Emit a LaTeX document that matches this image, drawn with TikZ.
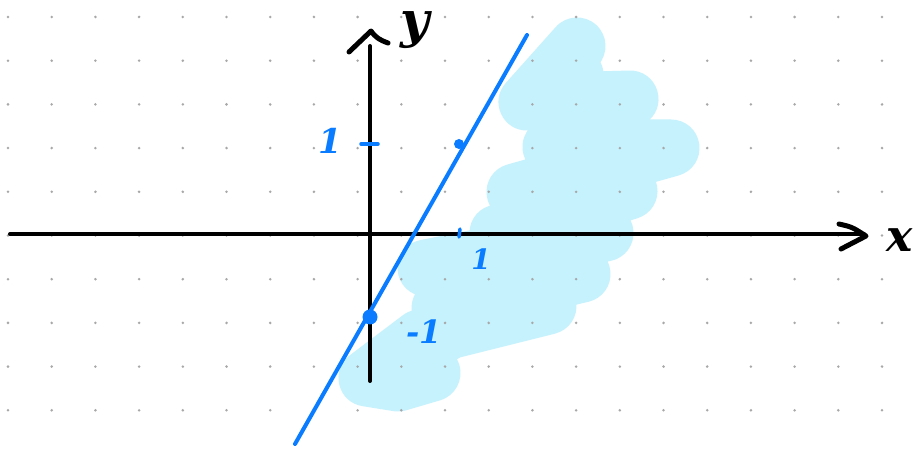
\documentclass[tikz,border=0pt]{standalone}
\usepackage{fontspec}
\setmainfont{DejaVu Serif}
\definecolor{blobc}{HTML}{C5F2FD}
\definecolor{linec}{HTML}{0A7CFF}
\definecolor{dotc}{HTML}{A8A8A8}
\begin{document}
\begin{tikzpicture}[x=1pt,y=-1pt,
  axis/.style={line width=4pt,line cap=round,line join=round,black},
  blue lbl/.style={text=linec,font=\bfseries\itshape\fontsize{#1}{#1}\selectfont,inner sep=0pt},
  blk lbl/.style={text=black,font=\bfseries\itshape\fontsize{#1}{#1}\selectfont,inner sep=0pt},
  tick/.style={line width=3.5pt,line cap=round,linec},
  scribble/.style={blobc,line width=57pt,line cap=round,line join=round}]
\useasboundingbox (0,0) rectangle (921,454);
\fill[white] (0,0) rectangle (921,454);
% shaded region
\draw[scribble]
  (577,46) -- (527,102) -- (630,99) -- (551,147) -- (671,148) -- (515,192)
  -- (629,191) -- (498,233) -- (605,233) -- (426,268) -- (582,274)
  -- (440,308) -- (548,306) -- (420,338) -- (367,378) -- (398,383) -- (432,373);
\draw[scribble] (575,75) -- (590,140) -- (580,200) -- (550,250) -- (500,290) -- (460,322) -- (405,362);
% dot grid
\foreach \i in {0,...,20}{
  \foreach \j in {0,...,9}{
    \fill[dotc] ({8+43.7*\i},{17+43.7*\j}) circle (1.4);
  }}
% axes
\coordinate (xs) at (10,234);
\coordinate (xe) at (864,234);
\coordinate (ys) at (370,381);
\coordinate (ye) at (370,46);
\draw[axis] (xs) -- (xe);
\draw[axis] (ys) -- (ye);
\draw[axis,line width=5pt] (839,224) .. controls (852,227) .. (866,236) -- (841,249);
\draw[axis,line width=5pt] (349,52) -- (371,31) .. controls (376,38) and (380,40) .. (388,43);
\node[blk lbl=44] (xl) at (900,240) {x};
\node[blk lbl=50] (yl) at (415,30) {y};
% line
\coordinate (la) at (295,444);
\coordinate (lb) at (527,35);
\draw[linec,line width=4pt,line cap=round] (la) -- (lb);
\fill[linec] (459,144) circle (5);
\fill[linec] (370,317) circle (7.5);
% ticks
\coordinate (t1a) at (361,144);
\coordinate (t1b) at (378,144);
\draw[tick] (t1a) -- (t1b);
\coordinate (t2a) at (460,229);
\coordinate (t2b) at (459,237);
\draw[tick] (t2a) -- (t2b);
\node[blue lbl=34] (ly) at (330,141) {1};
\node[blue lbl=28] (lx) at (481,259) {1};
\node[blue lbl=32] (lm) at (424,332) {-1};
\end{tikzpicture}
\end{document}
